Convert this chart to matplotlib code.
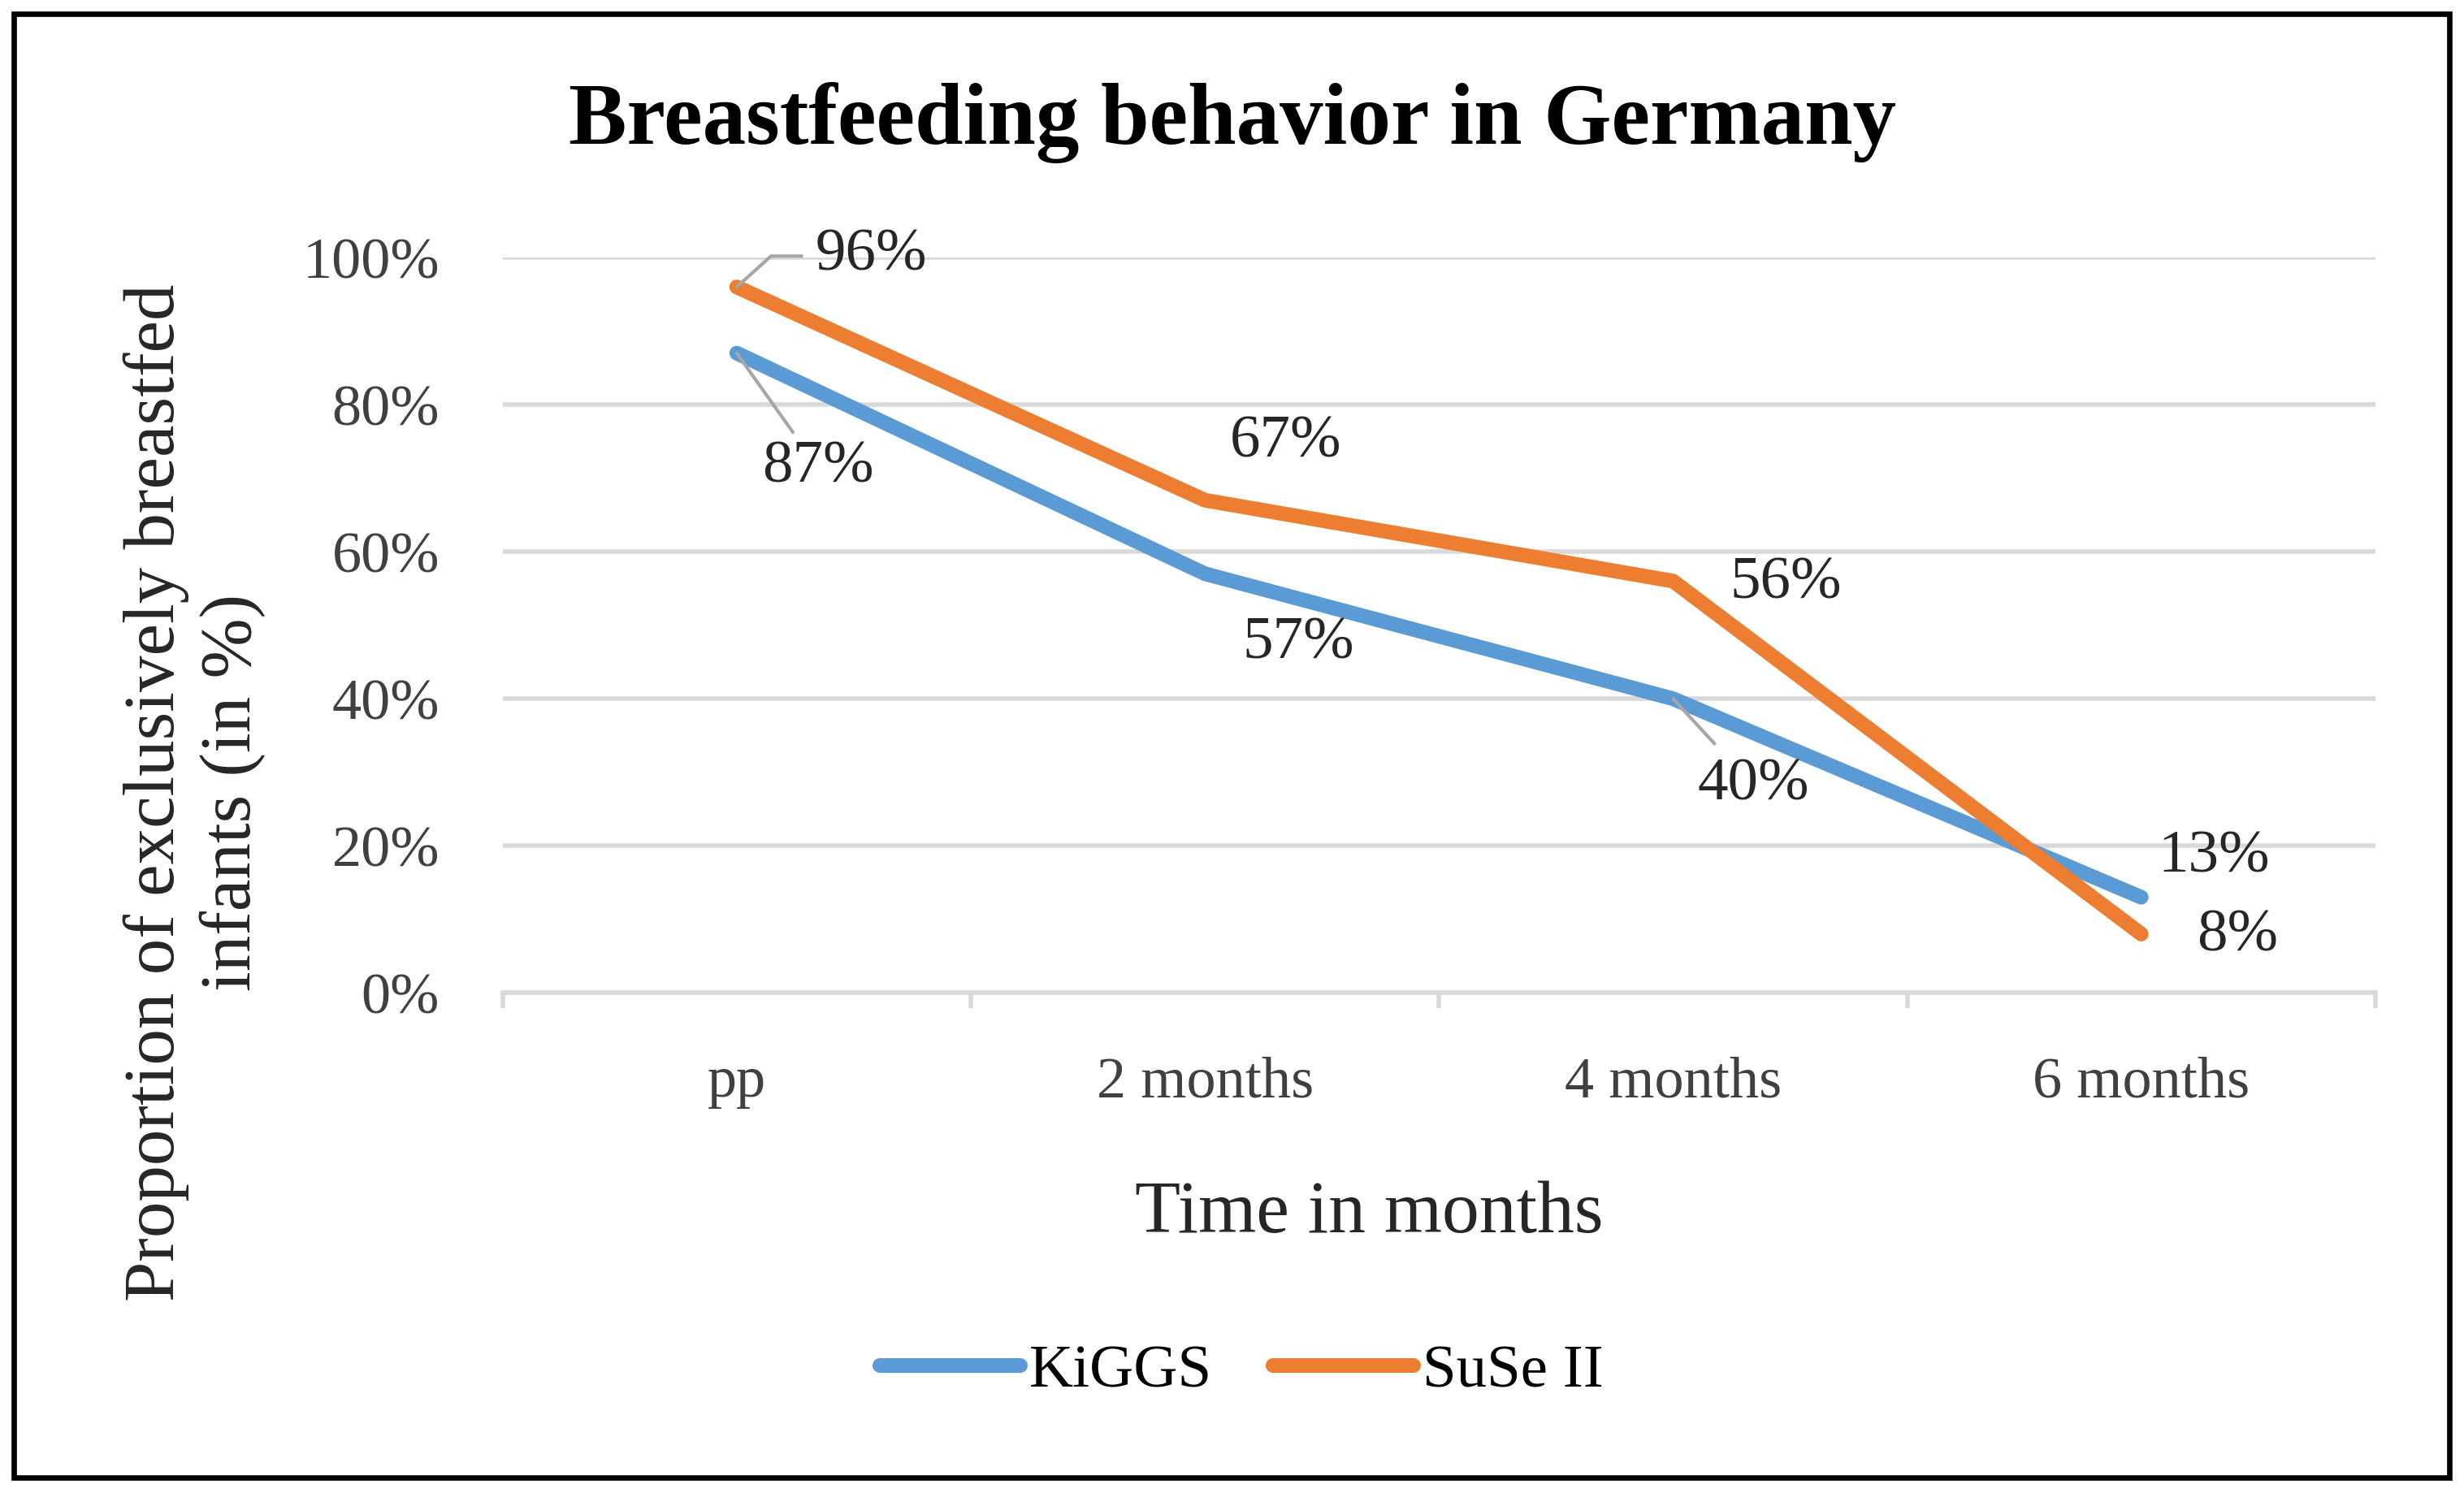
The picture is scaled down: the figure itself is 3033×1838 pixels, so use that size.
from matplotlib import pyplot as plt
from matplotlib.patches import Rectangle
from matplotlib.ticker import PercentFormatter

plt.rcParams['font.family'] = ['Liberation Serif', 'DejaVu Serif']

categories = ["pp", "2 months", "4 months", "6 months"]
kiggs = [87, 57, 40, 13]
suse = [96, 67, 56, 8]
yticks = [0, 20, 40, 60, 80, 100]

blue = '#5B9BD5'
orange = '#ED7D31'
grid = '#D9D9D9'
lead = '#A6A6A6'

fig = plt.figure(figsize=(15.165, 9.19), dpi=200)
ax = fig.add_axes([0.204, 0.335, 0.760, 0.4925])

x = range(len(categories))
ax.plot(x, kiggs, color=blue, lw=6.5, solid_capstyle='round', solid_joinstyle='round', label="KiGGS", zorder=3)
ax.plot(x, suse, color=orange, lw=6.5, solid_capstyle='round', solid_joinstyle='round', label="SuSe II", zorder=3)

ax.set_xlim(-0.5, 3.5)
ax.set_ylim(0, 100)
ax.set_yticks(yticks)
ax.yaxis.set_major_formatter(PercentFormatter(decimals=0))
ax.set_xticks(list(x))
ax.set_xticklabels(categories)
ax.set_xticks([i - 0.5 for i in range(len(categories) + 1)], minor=True)
ax.tick_params(axis='both', which='major', length=0, labelsize=26, labelcolor='#404040', pad=28)
ax.tick_params(axis='x', which='minor', length=7, width=2, color=grid)
ax.grid(axis='y', color=grid, lw=2, zorder=0)
for s in ['top', 'right', 'left']:
    ax.spines[s].set_visible(False)
ax.spines['bottom'].set_color(grid)
ax.spines['bottom'].set_linewidth(2)
ax.spines['bottom'].set_zorder(1)

# data labels
txt = dict(fontsize=27, color='#262626', va='center', ha='center')
ax.annotate(f"{suse[0]}%", xy=(0, suse[0]), xytext=(0.1675, 100.2), ha='left', va='center', fontsize=27,
            color='#262626', arrowprops=dict(arrowstyle='-', color=lead, lw=1.5, shrinkA=4, shrinkB=0,
                                             connectionstyle='angle,angleA=0,angleB=42,rad=0'))
ax.annotate(f"{kiggs[0]}%", xy=(0, kiggs[0]), xytext=(0.174, 71.4),
            arrowprops=dict(arrowstyle='-', color=lead, lw=1.5, shrinkA=2, shrinkB=0), **txt)
ax.text(1.173, 74.8, f"{suse[1]}%", **txt)
ax.text(1.199, 47.4, f"{kiggs[1]}%", **txt)
ax.text(2.241, 55.6, f"{suse[2]}%", **txt)
ax.annotate(f"{kiggs[2]}%", xy=(2, kiggs[2]), xytext=(2.171, 28.2),
            arrowprops=dict(arrowstyle='-', color=lead, lw=1.5, shrinkA=6, shrinkB=0), **txt)
ax.text(3.156, 18.4, f"{kiggs[3]}%", **txt)
ax.text(3.206, 7.7, f"{suse[3]}%", **txt)

fig.text(0.5003, 0.918, "Breastfeeding behavior in Germany", fontsize=38.5, fontweight='bold',
         ha='center', va='center', color='black')
fig.text(0.5555, 0.1866, "Time in months", fontsize=33, ha='center', va='center', color='#262626')
fig.text(0.079, 0.469, "Proportion of exclusively breastfed\ninfants (in %)", fontsize=32,
         rotation=90, ha='center', va='center', multialignment='center', color='#262626', linespacing=1.2)

fig.legend(loc='center', bbox_to_anchor=(0.504, 0.081), ncol=2, frameon=False, fontsize=27,
           handlelength=2.3, handletextpad=0.15, columnspacing=1.0)

fig.patches.append(Rectangle((0.0055, 0.0105), 0.9885, 0.98, transform=fig.transFigure,
                             fill=False, edgecolor='black', lw=2.4))

fig.savefig("out.png", dpi=200)
